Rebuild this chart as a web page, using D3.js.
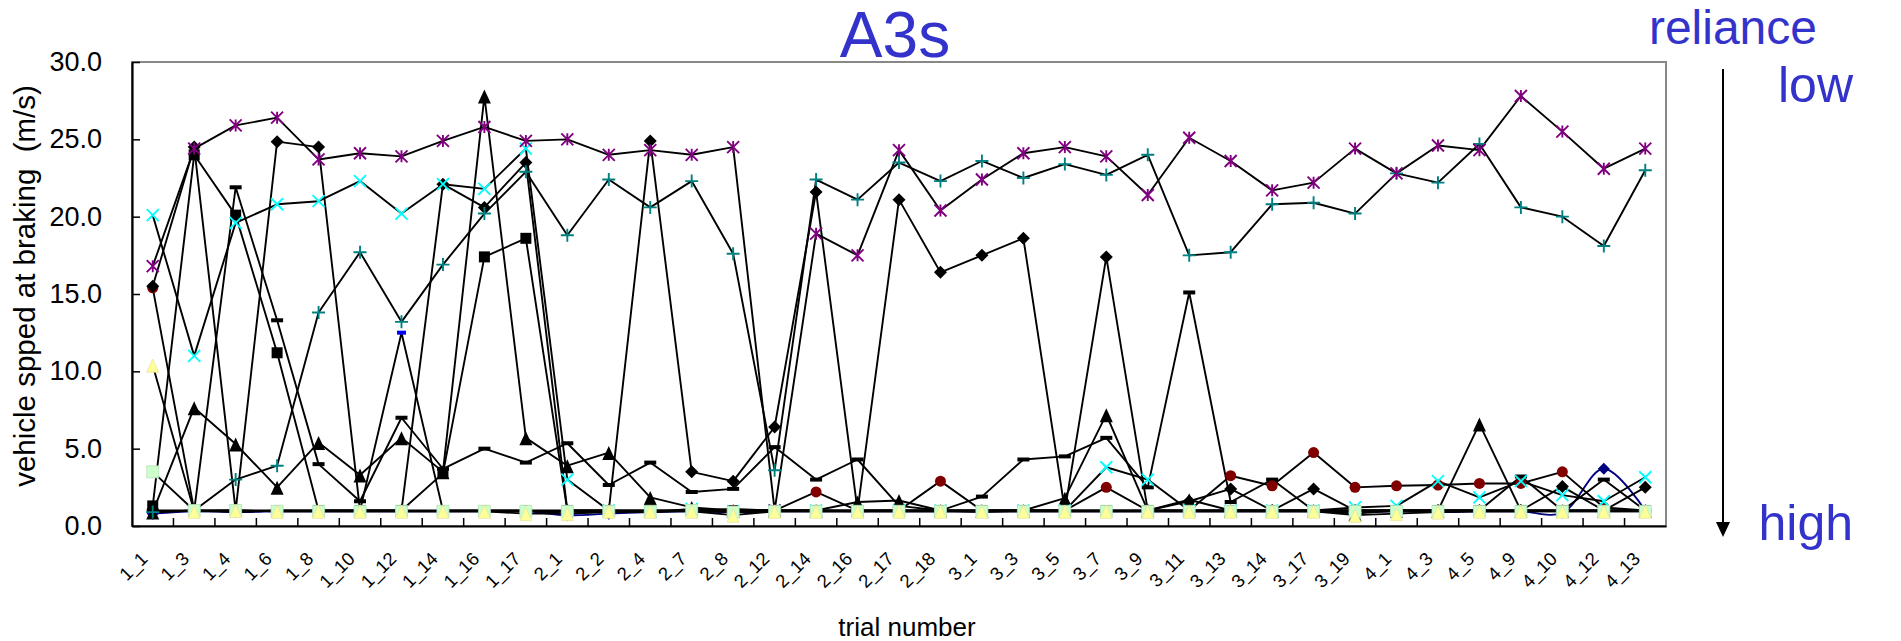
<!DOCTYPE html>
<html>
<head>
<meta charset="utf-8">
<script src="https://cdn.jsdelivr.net/npm/d3@7"></script>
<style>
    body { margin: 0; background: #ffffff; }
    svg { display: block; font-family: "Liberation Sans", Arial, sans-serif; }
</style>
</head>
<body>
<svg width="1901" height="641"></svg>
<script>

// trial numbers along the x axis
var trials = ["1_1", "1_3", "1_4", "1_6", "1_8", "1_10", "1_12", "1_14", "1_16", "1_17",
    "2_1", "2_2", "2_4", "2_7", "2_8", "2_12", "2_14", "2_16", "2_17", "2_18",
    "3_1", "3_3", "3_5", "3_7", "3_9", "3_11", "3_13", "3_14", "3_17", "3_19",
    "4_1", "4_3", "4_5", "4_9", "4_10", "4_12", "4_13"];

var yTicks = [0, 5, 10, 15, 20, 25, 30];

// speed at braking (m/s), one array per participant
var navyDiamond = [0.8, 0.95, 0.9, 0.95, 0.95, 0.95, 0.95, 0.95, 0.95, 0.95, 0.7, 0.8, 0.9, 0.95, 0.9, 0.95, 0.95, 0.95, 0.95, 0.95, 0.95, 0.95, 0.95, 0.95, 0.95, 0.95, 0.95, 0.95, 0.95, 0.9, 0.95, 0.9, 0.95, 0.95, 0.85, 3.7, 1.0];
var blueDash = [0.9, 1.0, 0.9, 1.0, 1.0, 1.0, 12.5, 1.0, 1.0, 1.0, 0.8, 0.9, 0.9, 1.0, 1.1, 1.0, 1.0, 1.0, 1.0, 1.0, 1.0, 1.0, 1.0, 1.0, 1.0, 1.0, 1.0, 1.0, 1.0, 1.0, 1.0, 1.0, 1.0, 1.0, 1.0, 1.0, 1.0];
var purpleStar = [16.8, 24.4, 25.9, 26.4, 23.7, 24.1, 23.9, 24.9, 25.8, 24.9, 25.0, 24.0, 24.3, 24.0, 24.5, 1.0, 18.9, 17.5, 24.3, 20.4, 22.4, 24.1, 24.5, 23.9, 21.4, 25.1, 23.6, 21.7, 22.2, 24.4, 22.8, 24.6, 24.3, 27.8, 25.5, 23.1, 24.4];
var tealPlus = [0.9, 1.0, 3.0, 3.9, 13.8, 17.7, 13.2, 16.9, 20.2, 22.9, 18.8, 22.4, 20.6, 22.3, 17.6, 3.6, 22.4, 21.1, 23.5, 22.3, 23.6, 22.5, 23.4, 22.7, 24.0, 17.5, 17.7, 20.8, 20.9, 20.2, 22.8, 22.2, 24.7, 20.6, 20.0, 18.1, 23.0];
var cyanX = [20.1, 11.0, 19.6, 20.8, 21.0, 22.3, 20.2, 22.1, 21.8, 24.4, 3.0, 1.0, 0.9, 1.1, 0.95, 1.0, 1.0, 0.95, 1.0, 1.0, 0.9, 1.0, 1.0, 3.8, 3.0, 1.0, 1.0, 1.0, 1.0, 1.2, 1.3, 2.9, 1.85, 2.9, 2.0, 1.6, 3.15];
var blackDiamond = [15.5, 24.5, 1.0, 24.85, 24.5, 1.0, 1.0, 22.1, 20.6, 23.5, 1.0, 1.0, 24.9, 3.5, 2.9, 6.4, 21.6, 1.0, 21.1, 16.4, 17.5, 18.6, 1.0, 17.4, 1.0, 1.6, 2.4, 1.0, 2.4, 1.0, 1.0, 1.0, 1.0, 1.0, 2.55, 1.0, 2.5];
var blackSquare = [1.3, 24.0, 20.1, 11.2, 1.0, 1.0, 1.0, 3.4, 17.4, 18.6, 1.0, 1.0, 1.0, 1.0, 1.0, 1.0, 1.0, 1.0, 1.0, 1.0, 1.0, 1.0, 1.0, 1.0, 1.0, 1.0, 1.0, 1.0, 1.0, 1.0, 1.0, 1.0, 1.0, 1.0, 1.0, 1.0, 1.0];
var blackTriangle = [0.9, 7.65, 5.3, 2.5, 5.4, 3.3, 5.7, 3.5, 27.8, 5.7, 3.9, 4.75, 1.85, 1.2, 1.0, 1.0, 1.0, 1.55, 1.65, 1.0, 1.0, 1.0, 1.8, 7.2, 1.0, 1.7, 1.0, 1.0, 1.0, 0.8, 1.0, 1.0, 6.6, 1.0, 1.0, 1.0, 1.0];
var blackDash = [1.0, 1.0, 21.9, 13.3, 4.0, 1.6, 7.0, 3.7, 5.0, 4.1, 5.35, 2.65, 4.1, 2.2, 2.4, 5.1, 3.0, 4.3, 1.3, 1.0, 1.9, 4.3, 4.5, 5.7, 2.5, 15.1, 1.55, 3.0, 1.0, 1.0, 1.0, 1.0, 1.0, 3.2, 1.0, 3.0, 1.0];
var redCircle = [15.4, 1.0, 1.0, 1.0, 1.0, 1.0, 1.0, 1.0, 1.0, 1.0, 1.0, 1.0, 1.0, 1.0, 1.0, 1.0, 2.2, 1.0, 1.0, 2.9, 1.0, 1.0, 1.0, 2.5, 1.0, 1.0, 3.25, 2.6, 4.75, 2.5, 2.6, 2.65, 2.75, 2.75, 3.5, 1.2, 1.0];
var greenSquare = [3.5, 1.0, 1.0, 0.95, 0.95, 0.95, 0.95, 0.95, 0.95, 0.95, 0.95, 0.95, 0.95, 1.0, 0.9, 0.95, 0.95, 0.95, 0.95, 0.95, 0.95, 0.95, 0.95, 0.95, 0.95, 0.95, 0.95, 0.95, 0.95, 0.95, 0.95, 0.95, 0.95, 0.95, 0.95, 0.95, 0.95];
var yellowTriangle = [10.4, 0.95, 1.0, 0.95, 0.95, 0.95, 0.95, 0.95, 0.95, 0.8, 0.8, 0.95, 0.95, 0.95, 0.7, 0.95, 0.95, 0.95, 0.95, 0.95, 0.95, 0.95, 0.95, 0.95, 0.95, 0.95, 0.95, 0.95, 0.95, 0.7, 0.8, 0.9, 0.95, 0.95, 0.95, 0.95, 0.95];

//setup the SVG canvas
var svg = d3.select("svg"),
    plotLeft = 132,
    plotRight = 1666,
    plotTop = 62,
    plotBottom = 526;

var x = d3.scaleBand()
    .domain(trials)
    .range([plotLeft, plotRight]);

var y = d3.scaleLinear()
    .domain([0, 30])
    .range([plotBottom, plotTop]);

function cx(i) { return x(trials[i]) + x.bandwidth() / 2; }

// marker shapes drawn round (0,0)
var markers = {
    star: function (s) {
        var h = s / 2;
        return "M" + -h + "," + -h + "L" + h + "," + h + "M" + -h + "," + h + "L" + h + "," + -h + "M0," + -h + "L0," + h;
    },
    plus: function (s) {
        var h = s / 2;
        return "M" + -h + ",0L" + h + ",0M0," + -h + "L0," + h;
    },
    cross: function (s) {
        var h = s / 2;
        return "M" + -h + "," + -h + "L" + h + "," + h + "M" + -h + "," + h + "L" + h + "," + -h;
    },
    diamond: function (s) {
        var h = s / 2;
        return "M0," + -h + "L" + h + ",0L0," + h + "L" + -h + ",0Z";
    },
    square: function (s) {
        var h = s / 2;
        return "M" + -h + "," + -h + "H" + h + "V" + h + "H" + -h + "Z";
    },
    triangle: function (s) {
        var h = s / 2;
        return "M0," + -h + "L" + h + "," + (h + 1) + "L" + -h + "," + (h + 1) + "Z";
    },
    dash: function (s) {
        var h = s / 2;
        return "M" + -h + ",-2H" + h + "V2H" + -h + "Z";
    }
};

// series in drawing order
var series = [
    { values: navyDiamond, shape: "diamond", size: 12, fill: "#000080", stroke: "none", line: "#000080", smooth: true },
    { values: blueDash, shape: "dash", size: 9, fill: "#0000ff", stroke: "none", line: "#000000" },
    { values: blackSquare, shape: "square", size: 11, fill: "#000000", stroke: "none", line: "#000000" },
    { values: blackTriangle, shape: "triangle", size: 13, fill: "#000000", stroke: "none", line: "#000000" },
    { values: blackDash, shape: "dash", size: 12, fill: "#000000", stroke: "none", line: "#000000" },
    { values: redCircle, shape: "circle", size: 11, fill: "#800000", stroke: "none", line: "#000000" },
    { values: blackDiamond, shape: "diamond", size: 13, fill: "#000000", stroke: "none", line: "#000000" },
    { values: cyanX, shape: "cross", size: 12, fill: "none", stroke: "#00ffff", line: "#000000" },
    { values: tealPlus, shape: "plus", size: 13, fill: "none", stroke: "#008080", line: "#000000" },
    { values: purpleStar, shape: "star", size: 12, fill: "none", stroke: "#800080", line: "#000000" },
    { values: greenSquare, shape: "square", size: 12, fill: "#ccffcc", stroke: "#b8e0b8", line: "#000000" },
    { values: yellowTriangle, shape: "triangle", size: 12, fill: "#ffff99", stroke: "#e6e6a0", line: "#000000" }
];

// plot frame, grey on top and right
svg.append("rect")
    .attr("x", plotLeft)
    .attr("y", plotTop)
    .attr("width", plotRight - plotLeft)
    .attr("height", plotBottom - plotTop)
    .attr("fill", "none")
    .attr("stroke", "#888888")
    .attr("stroke-width", 2);

var lineGen = d3.line()
    .x(function (d, i) { return cx(i); })
    .y(function (d) { return y(d); });

var smoothGen = d3.line()
    .x(function (d, i) { return cx(i); })
    .y(function (d) { return y(d); })
    .curve(d3.curveCatmullRom.alpha(0.5));

var lines = svg.append("g").attr("class", "lines");

series.forEach(function (s) {
    lines.append("path")
        .datum(s.values)
        .attr("d", s.smooth ? smoothGen : lineGen)
        .attr("fill", "none")
        .attr("stroke", s.line)
        .attr("stroke-width", 1.9)
        .attr("stroke-linejoin", "round");
});

var marks = svg.append("g").attr("class", "markers");

series.forEach(function (s) {
    var g = marks.append("g");
    var pts = g.selectAll(".pt")
        .data(s.values)
        .enter();

    if (s.shape === "circle") {
        pts.append("circle")
            .attr("cx", function (d, i) { return cx(i); })
            .attr("cy", function (d) { return y(d); })
            .attr("r", s.size / 2)
            .attr("fill", s.fill);
    } else {
        pts.append("path")
            .attr("transform", function (d, i) { return "translate(" + cx(i) + "," + y(d) + ")"; })
            .attr("d", markers[s.shape](s.size))
            .attr("fill", s.fill)
            .attr("stroke", s.stroke)
            .attr("stroke-width", s.fill === "none" ? 1.9 : 0.8);
    }
});

// y axis, ticks point inwards
var yAxis = svg.append("g")
    .attr("transform", "translate(" + plotLeft + ",0)")
    .call(d3.axisLeft(y)
        .tickValues(yTicks)
        .tickSizeInner(-8)
        .tickSizeOuter(0)
        .tickPadding(30)
        .tickFormat(d3.format(".1f")));

yAxis.select(".domain").attr("stroke-width", 2.2);
yAxis.selectAll(".tick line").attr("stroke-width", 1.5);
yAxis.selectAll("text")
    .attr("font-size", 27)
    .attr("font-family", "Liberation Sans, Arial, sans-serif")
    .attr("fill", "#000");

// x axis, labels at the band centres, tick marks between bands
var xAxis = svg.append("g")
    .attr("transform", "translate(0," + plotBottom + ")")
    .call(d3.axisBottom(x).tickSize(0).tickPadding(0));

xAxis.select(".domain").attr("stroke-width", 2.2);
xAxis.selectAll("text")
    .attr("font-size", 18.5)
    .attr("font-family", "Liberation Sans, Arial, sans-serif")
    .attr("fill", "#000")
    .attr("text-anchor", "end")
    .attr("dy", null)
    .attr("y", null)
    .attr("transform", "translate(-4,34) rotate(-45)");

xAxis.selectAll(".between")
    .data(trials.slice(1))
    .enter().append("line")
    .attr("class", "between")
    .attr("x1", function (d) { return x(d); })
    .attr("x2", function (d) { return x(d); })
    .attr("y1", 0)
    .attr("y2", -8)
    .attr("stroke", "#000")
    .attr("stroke-width", 1.5);

// axis titles
svg.append("text")
    .attr("transform", "translate(35,286) rotate(-90)")
    .attr("text-anchor", "middle")
    .attr("font-size", 29.5)
    .attr("xml:space", "preserve")
    .text("vehicle spped at braking  (m/s)");

svg.append("text")
    .attr("x", 907)
    .attr("y", 636)
    .attr("text-anchor", "middle")
    .attr("font-size", 26)
    .text("trial number");

// chart title and the reliance arrow
svg.append("text")
    .attr("x", 895)
    .attr("y", 57)
    .attr("text-anchor", "middle")
    .attr("font-size", 64)
    .attr("fill", "#3333cc")
    .text("A3s");

svg.append("text")
    .attr("x", 1817)
    .attr("y", 44)
    .attr("text-anchor", "end")
    .attr("font-size", 48)
    .attr("fill", "#3333cc")
    .text("reliance");

svg.append("text")
    .attr("x", 1853)
    .attr("y", 102)
    .attr("text-anchor", "end")
    .attr("font-size", 50)
    .attr("fill", "#3333cc")
    .text("low");

svg.append("text")
    .attr("x", 1853)
    .attr("y", 540)
    .attr("text-anchor", "end")
    .attr("font-size", 50)
    .attr("fill", "#3333cc")
    .text("high");

svg.append("line")
    .attr("x1", 1723)
    .attr("x2", 1723)
    .attr("y1", 69)
    .attr("y2", 524)
    .attr("stroke", "#000")
    .attr("stroke-width", 2);

svg.append("path")
    .attr("d", "M1716,522L1730,522L1723,537Z")
    .attr("fill", "#000");

</script>
</body>
</html>
